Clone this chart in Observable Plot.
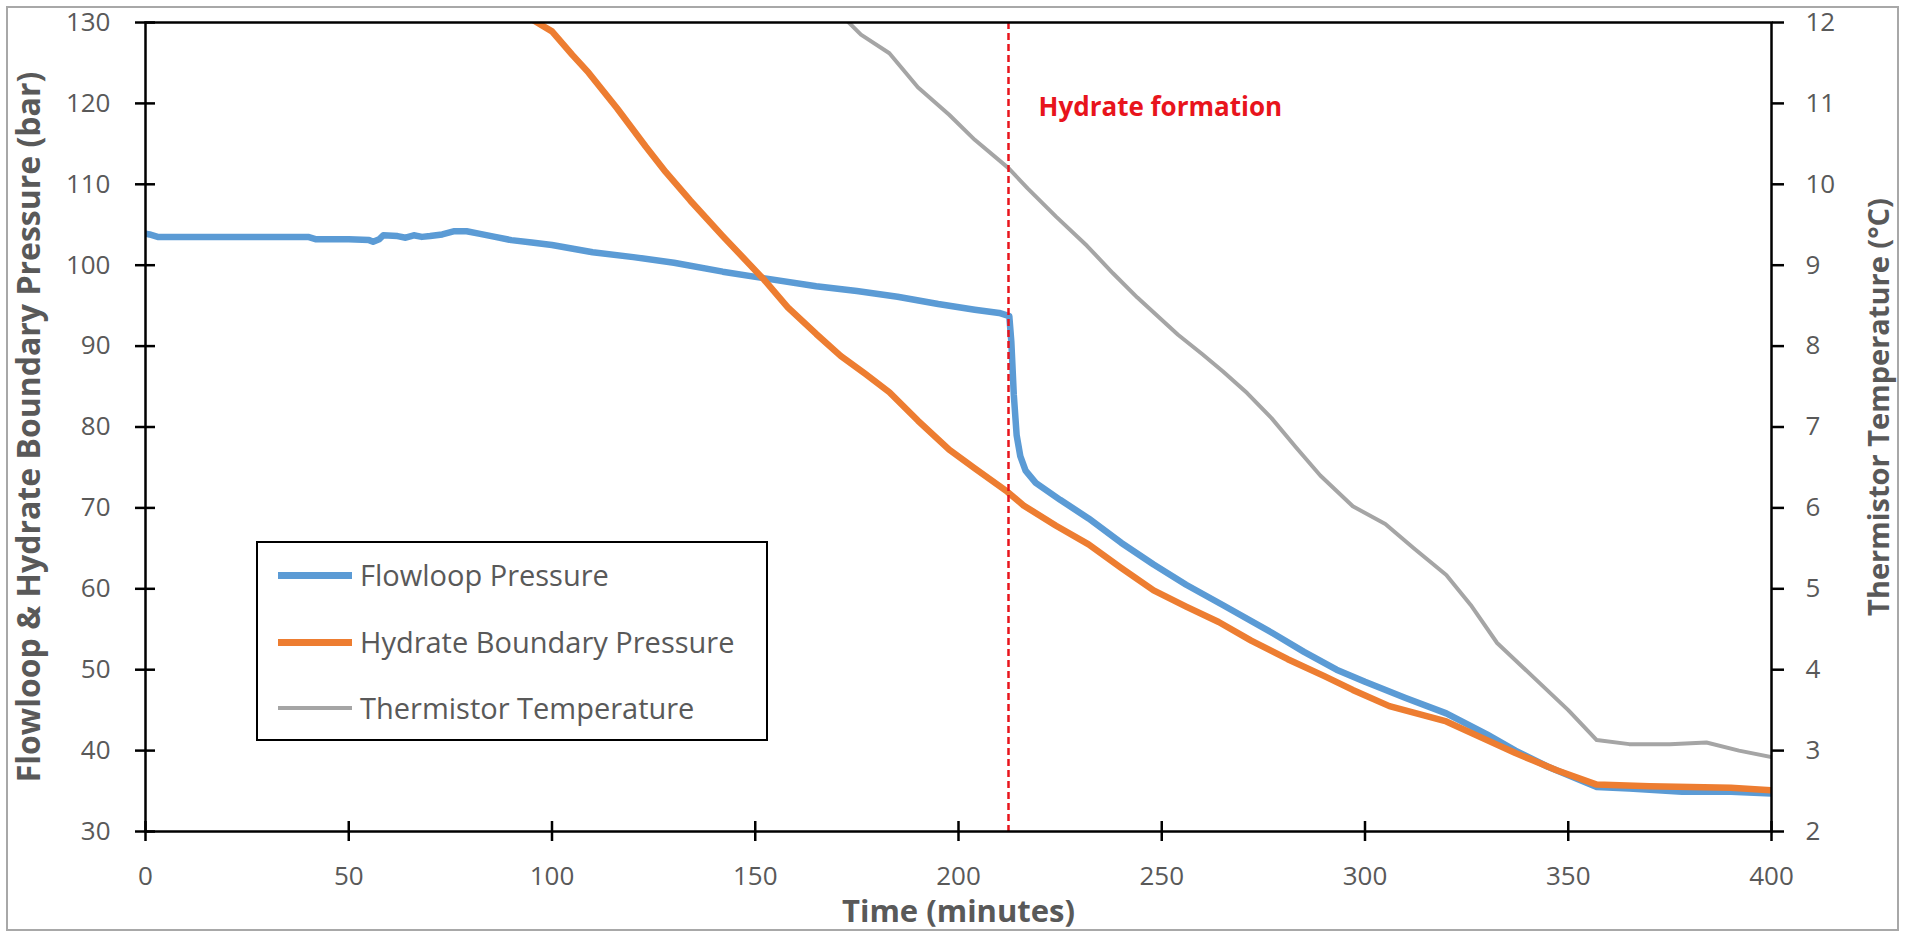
<!DOCTYPE html>
<html>
<head>
<meta charset="utf-8">
<script src="https://cdn.jsdelivr.net/npm/d3@7"></script>
<script src="https://cdn.jsdelivr.net/npm/@observablehq/plot@0.6"></script>
<style>
  html, body { margin: 0; padding: 0; background: #fff; }
  #wrap { position: relative; width: 1910px; height: 933px; font-family: "Open Sans", sans-serif; background: #fff; overflow: hidden; }
  #border { position: absolute; left: 6px; top: 6px; width: 1893px; height: 925px; border: 2px solid #a8a8a8; box-sizing: border-box; pointer-events: none; }
  #legend { position: absolute; left: 256px; top: 541px; width: 512px; height: 200px; border: 2.5px solid #000; box-sizing: border-box; background: #fff; }
  .sw { position: absolute; left: 278px; width: 74px; }
  .lt { position: absolute; left: 360px; font-size: 29px; line-height: 29px; color: #595959; white-space: nowrap; }
  svg { position: absolute; left: 0; top: 0; }
</style>
</head>
<body>
<div id="wrap"></div>
<script>
// ---- Data ----
const flowTime = [0, 1, 3, 20, 40, 42, 50, 55, 56, 57.5, 58.5, 62, 64, 66, 68, 70, 73, 76, 79, 82, 86, 90, 95, 100, 110, 120, 130, 142, 152, 165, 175, 185, 195, 204, 210, 212.5, 213, 213.6, 214.3, 215.2, 216.5, 219, 225, 232, 240, 248, 256, 265, 277, 285, 293, 300, 310, 320, 330, 337, 345, 357, 365, 378, 390, 400];
const flowPressure = [103.9, 103.8, 103.5, 103.5, 103.5, 103.2, 103.2, 103.1, 102.9, 103.2, 103.7, 103.6, 103.4, 103.7, 103.5, 103.6, 103.8, 104.2, 104.2, 103.9, 103.5, 103.1, 102.8, 102.5, 101.6, 101.0, 100.3, 99.2, 98.4, 97.4, 96.8, 96.1, 95.2, 94.5, 94.1, 93.7, 90.5, 84.0, 79.0, 76.4, 74.6, 73.1, 71.0, 68.7, 65.7, 63.0, 60.5, 58.0, 54.6, 52.2, 50.0, 48.5, 46.5, 44.6, 42.0, 40.0, 38.0, 35.5, 35.3, 34.9, 34.9, 34.7];

const hydTime = [95, 100, 105, 109, 116, 123, 128, 134, 142, 152, 158, 165, 171, 177, 183, 190, 197.7, 204, 212, 216, 224, 232, 240, 248, 256, 264, 272, 281, 290, 297, 306, 320, 330, 337, 347, 357, 370, 390, 400];
const hydPressure = [130.4, 128.9, 126.0, 123.8, 119.4, 114.7, 111.5, 108.0, 103.6, 98.3, 94.8, 91.5, 88.8, 86.6, 84.3, 80.8, 77.2, 74.9, 72.0, 70.3, 67.8, 65.5, 62.6, 59.8, 57.8, 55.9, 53.6, 51.3, 49.2, 47.5, 45.5, 43.6, 41.3, 39.7, 37.6, 35.8, 35.6, 35.4, 35.1];

const tempTime = [172, 176, 183, 190, 197.7, 204, 212.3, 217, 224, 231.6, 238, 244, 254, 260, 265, 271, 277, 283, 289, 297, 305, 312, 320, 326, 332.5, 342, 350, 357, 365, 375, 384, 392, 400];
const tempValue = [12.05, 11.85, 11.62, 11.2, 10.86, 10.55, 10.2, 9.95, 9.6, 9.24, 8.9, 8.6, 8.14, 7.9, 7.69, 7.42, 7.11, 6.75, 6.4, 6.02, 5.8, 5.5, 5.17, 4.8, 4.33, 3.88, 3.5, 3.13, 3.08, 3.08, 3.10, 3.0, 2.92];

const timeTicks = [0, 50, 100, 150, 200, 250, 300, 350, 400];
const pressureTicks = [30, 40, 50, 60, 70, 80, 90, 100, 110, 120, 130];
const tempTicks = [2, 3, 4, 5, 6, 7, 8, 9, 10, 11, 12];

const formationTime = 212.3;
const formationLabel = "Hydrate formation";

const seriesNames = ["Flowloop Pressure", "Hydrate Boundary Pressure", "Thermistor Temperature"];
const seriesColors = ["#5b9bd5", "#ed7d31", "#a5a5a5"];
const seriesWidths = [6.5, 6.5, 4];

const xTitle = "Time (minutes)";
const yTitle = "Flowloop & Hydrate Boundary Pressure (bar)";
const y2Title = "Thermistor Temperature (°C)";

// ---- Build ----
const pDomain = [30, 130];
const tDomain = [2, 12];
const tempToP = t => pDomain[0] + (t - tDomain[0]) * (pDomain[1] - pDomain[0]) / (tDomain[1] - tDomain[0]);
const pToTemp = p => tDomain[0] + (p - pDomain[0]) * (tDomain[1] - tDomain[0]) / (pDomain[1] - pDomain[0]);

const flow = flowTime.map((t, i) => ({t, v: flowPressure[i]}));
const hyd = hydTime.map((t, i) => ({t, v: hydPressure[i]}));
const temp = tempTime.map((t, i) => ({t, v: tempValue[i]}));

const labelGray = "#595959";
const red = "#e8141c";

const chart = Plot.plot({
  width: 1910,
  height: 933,
  marginLeft: 145,
  marginRight: 139,
  marginTop: 22,
  marginBottom: 102,
  x: {domain: [0, 400]},
  y: {domain: pDomain},
  style: {fontFamily: "Open Sans, sans-serif", background: "transparent", overflow: "visible"},
  marks: [
    Plot.line(flow, {x: "t", y: "v", stroke: seriesColors[0], strokeWidth: seriesWidths[0], strokeLinejoin: "round", clip: true}),
    Plot.line(hyd, {x: "t", y: "v", stroke: seriesColors[1], strokeWidth: seriesWidths[1], strokeLinejoin: "round", clip: true}),
    Plot.line(temp, {x: "t", y: d => tempToP(d.v), stroke: seriesColors[2], strokeWidth: seriesWidths[2], strokeLinejoin: "round", clip: true}),
    Plot.ruleX([formationTime], {stroke: red, strokeWidth: 2.5, strokeDasharray: "7,4"}),
    Plot.frame({stroke: "#000", strokeWidth: 2.5}),
    Plot.axisY(pressureTicks, {anchor: "left", tickSize: 20, dx: 10, tickPadding: 25, fontSize: 26, stroke: "#000", strokeWidth: 2.5, fill: labelGray, label: null}),
    Plot.axisY(tempTicks.map(tempToP), {anchor: "right", tickSize: 12, tickPadding: 22, tickFormat: p => String(Math.round(pToTemp(p))), fontSize: 26, stroke: "#000", strokeWidth: 2.5, fill: labelGray, label: null}),
    Plot.axisX(timeTicks, {anchor: "bottom", tickSize: 20, dy: -10, tickPadding: 25, fontSize: 26, stroke: "#000", strokeWidth: 2.5, fill: labelGray, label: null}),
    Plot.text([yTitle], {frameAnchor: "left", dx: -116, rotate: -90, textAnchor: "middle", lineAnchor: "middle", fontSize: 32, fontWeight: "bold", fill: labelGray}),
    Plot.text([y2Title], {frameAnchor: "right", dx: 108, dy: -20, rotate: -90, textAnchor: "middle", lineAnchor: "middle", fontSize: 29, fontWeight: "bold", fill: labelGray}),
    Plot.text([xTitle], {frameAnchor: "bottom", dy: 81, textAnchor: "middle", lineAnchor: "middle", fontSize: 31, fontWeight: "bold", fill: labelGray}),
    Plot.text([formationLabel], {x: () => formationTime, frameAnchor: "top", dy: 85, dx: 30, textAnchor: "start", lineAnchor: "middle", fontSize: 26, fontWeight: "bold", fill: red})
  ]
});

const wrap = document.getElementById("wrap");
wrap.appendChild(chart);

// Legend (HTML, inside plot area)
const legend = document.createElement("div");
legend.id = "legend";
wrap.appendChild(legend);
const legendY = [575, 642, 708];
seriesNames.forEach((name, i) => {
  const sw = document.createElement("div");
  sw.className = "sw";
  const h = i === 2 ? 4.5 : 7;
  sw.style.top = (legendY[i] - h / 2) + "px";
  sw.style.height = h + "px";
  sw.style.background = seriesColors[i];
  wrap.appendChild(sw);
  const lt = document.createElement("div");
  lt.className = "lt";
  lt.style.top = (legendY[i] - 15) + "px";
  lt.textContent = name;
  wrap.appendChild(lt);
});

const border = document.createElement("div");
border.id = "border";
wrap.appendChild(border);
</script>
</body>
</html>
